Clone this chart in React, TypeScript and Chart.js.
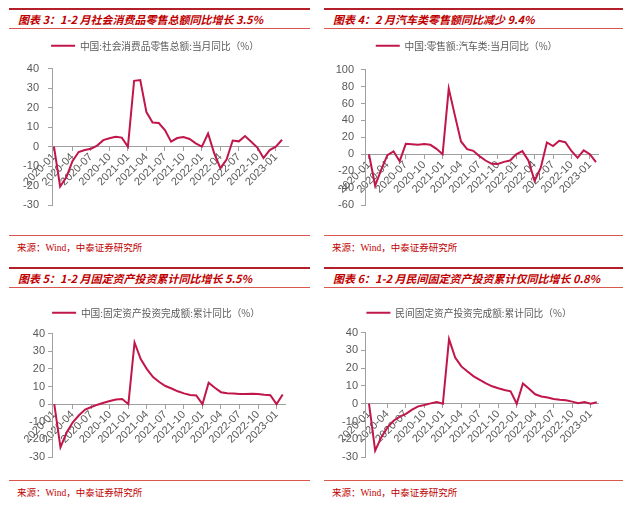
import React, { useEffect, useRef } from 'react';
import { Chart, registerables } from 'chart.js';

Chart.register(...registerables);

const months = [
  '2020-01', '2020-02', '2020-03', '2020-04', '2020-05', '2020-06', '2020-07', '2020-08', '2020-09', '2020-10', '2020-11', '2020-12',
  '2021-01', '2021-02', '2021-03', '2021-04', '2021-05', '2021-06', '2021-07', '2021-08', '2021-09', '2021-10', '2021-11', '2021-12',
  '2022-01', '2022-02', '2022-03', '2022-04', '2022-05', '2022-06', '2022-07', '2022-08', '2022-09', '2022-10', '2022-11', '2022-12',
  '2023-01', '2023-02',
];

const tickMonths = [
  '2020-01', '2020-04', '2020-07', '2020-10', '2021-01', '2021-04', '2021-07',
  '2021-10', '2022-01', '2022-04', '2022-07', '2022-10', '2023-01',
];

const retailSalesYoY = [
  0, -20.5, -15.8, -7.5, -2.8, -1.8, -1.1, 0.5, 3.3, 4.3, 5.0, 4.6,
  0, 33.8, 34.2, 17.7, 12.4, 12.1, 8.5, 2.5, 4.4, 4.9, 3.9, 1.7,
  0, 6.7, -3.5, -11.1, -6.7, 3.1, 2.7, 5.4, 2.5, -0.5, -5.9, -1.8,
  0, 3.5,
];

const autoSalesYoY = [
  0, -37.0, -18.1, -1.0, 3.5, -8.2, 12.3, 11.8, 11.3, 12.0, 11.2, 6.4,
  0, 77.6, 46.0, 15.1, 6.1, 4.1, -2.2, -7.4, -11.3, -11.5, -9.0, -7.4,
  0, 3.7, -7.5, -31.6, -16.0, 13.9, 9.7, 15.9, 14.2, 3.9, -4.2, 4.6,
  0, -9.4,
];

const fixedAssetYtd = [
  0, -24.5, -16.1, -10.3, -6.3, -3.1, -1.6, -0.3, 0.8, 1.8, 2.6, 2.9,
  0, 35.0, 25.6, 19.9, 15.4, 12.6, 10.3, 8.9, 7.3, 6.1, 5.2, 4.9,
  0, 12.2, 9.3, 6.8, 6.2, 6.1, 5.7, 5.8, 5.9, 5.8, 5.3, 5.1,
  0, 5.5,
];

const privateFixedAssetYtd = [
  0, -26.4, -18.8, -13.3, -9.6, -7.3, -5.7, -3.3, -1.5, -0.7, 0.2, 1.0,
  0, 36.4, 26.0, 21.0, 18.1, 15.4, 13.4, 11.5, 9.8, 8.7, 7.7, 7.0,
  0, 11.4, 8.4, 5.3, 4.1, 3.5, 2.7, 2.3, 2.0, 1.2, 0.3, 0.9,
  0, 0.8,
];

const LINE_COLOR = '#C0164A';
const AXIS_COLOR = '#A0A0A0';
const TEXT_COLOR = '#595959';
const TITLE_COLOR = '#C00000';
const CJK = '"Noto Sans CJK SC", "Liberation Sans", sans-serif';

type Cfg = {
  label: string;
  values: number[];
  yMin: number;
  yMax: number;
  yStep: number;
  xMin: number;
  xMax: number;
  left: number;
  top: number;
  width: number;
  height: number;
  padLeft: number;
  padRight: number;
  padBottom: number;
  yWidth: number;
  yPad: number;
  legendGap: number;
};

function LineChart({ cfg }: { cfg: Cfg }) {
  const ref = useRef<HTMLCanvasElement>(null);
  useEffect(() => {
    const legendGap = {
      id: 'legendGap',
      beforeInit(chart: any) {
        const legend = chart.legend;
        if (!legend) return;
        const origFit = legend.fit;
        legend.fit = function fit() {
          origFit.call(this);
          this.height += cfg.legendGap;
        };
      },
    };
    const chart = new Chart(ref.current as HTMLCanvasElement, {
      type: 'line',
      data: {
        datasets: [
          {
            label: cfg.label,
            data: cfg.values.map((v, i) => ({ x: i, y: v })),
            borderColor: LINE_COLOR,
            backgroundColor: LINE_COLOR,
            borderWidth: 2,
            pointRadius: 0,
            tension: 0,
            fill: false,
          },
        ],
      },
      plugins: [legendGap],
      options: {
        responsive: false,
        animation: false,
        devicePixelRatio: 1,
        layout: { padding: { left: cfg.padLeft, right: cfg.padRight, top: 0, bottom: cfg.padBottom } },
        plugins: {
          legend: {
            display: true,
            position: 'top',
            labels: {
              usePointStyle: true,
              pointStyle: 'line',
              pointStyleWidth: 24,
              color: TEXT_COLOR,
              font: { family: CJK, size: 9.7 },
              padding: 8,
            },
          },
          tooltip: { enabled: false },
        },
        scales: {
          x: {
            type: 'linear',
            min: cfg.xMin,
            max: cfg.xMax,
            position: { y: 0 },
            afterFit: (s: any) => {
              s.height = 0;
            },
            afterBuildTicks: (s: any) => {
              s.ticks = tickMonths.map((m) => ({ value: months.indexOf(m) }));
            },
            grid: { drawOnChartArea: false, drawTicks: true, tickLength: 4, color: AXIS_COLOR },
            border: { display: true, color: AXIS_COLOR, width: 1 },
            ticks: {
              autoSkip: false,
              maxRotation: 45,
              minRotation: 45,
              padding: 0,
              color: TEXT_COLOR,
              font: { family: '"Liberation Sans", Arial, sans-serif', size: 11 },
              callback: (v: any) => months[v as number] ?? '',
            },
          },
          y: {
            min: cfg.yMin,
            max: cfg.yMax,
            afterFit: (s: any) => {
              s.width = cfg.yWidth;
            },
            grid: { drawOnChartArea: false, drawTicks: true, tickLength: 4, color: AXIS_COLOR },
            border: { display: true, color: AXIS_COLOR, width: 1 },
            ticks: {
              stepSize: cfg.yStep,
              padding: cfg.yPad,
              color: TEXT_COLOR,
              font: { family: '"Liberation Sans", Arial, sans-serif', size: 11 },
            },
          },
        },
      },
    } as any);
    return () => chart.destroy();
  }, []);
  return (
    <div style={{ position: 'absolute', left: cfg.left, top: cfg.top, width: cfg.width, height: cfg.height }}>
      <canvas ref={ref} width={cfg.width} height={cfg.height} style={{ width: cfg.width, height: cfg.height, display: 'block' }} />
    </div>
  );
}

const charts: Cfg[] = [
  {
    label: '中国:社会消费品零售总额:当月同比（%）',
    values: retailSalesYoY,
    yMin: -30, yMax: 40, yStep: 10,
    xMin: -0.32, xMax: 37.97,
    left: 8, top: 33, width: 300, height: 197,
    padLeft: 14, padRight: 20, padBottom: 25, yWidth: 30, yPad: 9, legendGap: 8,
  },
  {
    label: '中国:零售额:汽车类:当月同比（%）',
    values: autoSalesYoY,
    yMin: -60, yMax: 100, yStep: 20,
    xMin: -0.65, xMax: 37.33,
    left: 324, top: 33, width: 294, height: 197,
    padLeft: 11, padRight: 20, padBottom: 25, yWidth: 30, yPad: 7, legendGap: 9,
  },
  {
    label: '中国:固定资产投资完成额:累计同比（%）',
    values: fixedAssetYtd,
    yMin: -30, yMax: 40, yStep: 10,
    xMin: -0.37, xMax: 37.37,
    left: 8, top: 300, width: 302, height: 180,
    padLeft: 19, padRight: 25, padBottom: 23, yWidth: 25, yPad: 3, legendGap: 6,
  },
  {
    label: '民间固定资产投资完成额:累计同比（%）',
    values: privateFixedAssetYtd,
    yMin: -30, yMax: 40, yStep: 10,
    xMin: -0.65, xMax: 37.2,
    left: 324, top: 300, width: 297, height: 180,
    padLeft: 16, padRight: 23, padBottom: 23, yWidth: 25, yPad: 3, legendGap: 5,
  },
];

const panels = [
  { x: 9, w: 301, titleY: 9, sourceY: 235, title: '图表 3：1-2 月社会消费品零售总额同比增长 3.5%' },
  { x: 324, w: 299, titleY: 9, sourceY: 235, title: '图表 4：2 月汽车类零售额同比减少 9.4%' },
  { x: 9, w: 301, titleY: 268, sourceY: 480, title: '图表 5：1-2 月固定资产投资累计同比增长 5.5%' },
  { x: 324, w: 299, titleY: 268, sourceY: 480, title: '图表 6：1-2 月民间固定资产投资累计仅同比增长 0.8%' },
];

const SOURCE_TEXT = '来源：Wind，中泰证券研究所';

export default function App() {
  return (
    <div style={{ position: 'fixed', left: 0, top: 0, width: 640, height: 509, background: '#ffffff', overflow: 'hidden' }}>
      {panels.map((p, i) => (
        <React.Fragment key={i}>
          <div style={{ position: 'absolute', left: p.x, top: p.titleY - 1, width: p.w, height: 2, background: '#B3202A' }} />
          <div
            style={{
              position: 'absolute', left: p.x + 9, top: p.titleY + 2, height: 16, lineHeight: '16px',
              fontFamily: CJK, fontSize: 11, fontWeight: 700, fontStyle: 'italic', color: TITLE_COLOR, whiteSpace: 'pre',
            }}
          >
            {p.title}
          </div>
          <div style={{ position: 'absolute', left: p.x, top: p.titleY + 19, width: p.w, height: 1, background: '#D9574F' }} />
          <div style={{ position: 'absolute', left: p.x, top: p.sourceY, width: p.w, height: 1, background: '#D9574F' }} />
          <div
            style={{
              position: 'absolute', left: p.x + 8, top: p.sourceY + 6, height: 14, lineHeight: '14px',
              fontFamily: '"Liberation Serif", "Noto Sans CJK SC", serif', fontSize: 9.5, color: TITLE_COLOR, whiteSpace: 'pre',
            }}
          >
            {SOURCE_TEXT}
          </div>
        </React.Fragment>
      ))}
      {charts.map((c, i) => (
        <LineChart key={i} cfg={c} />
      ))}
    </div>
  );
}
